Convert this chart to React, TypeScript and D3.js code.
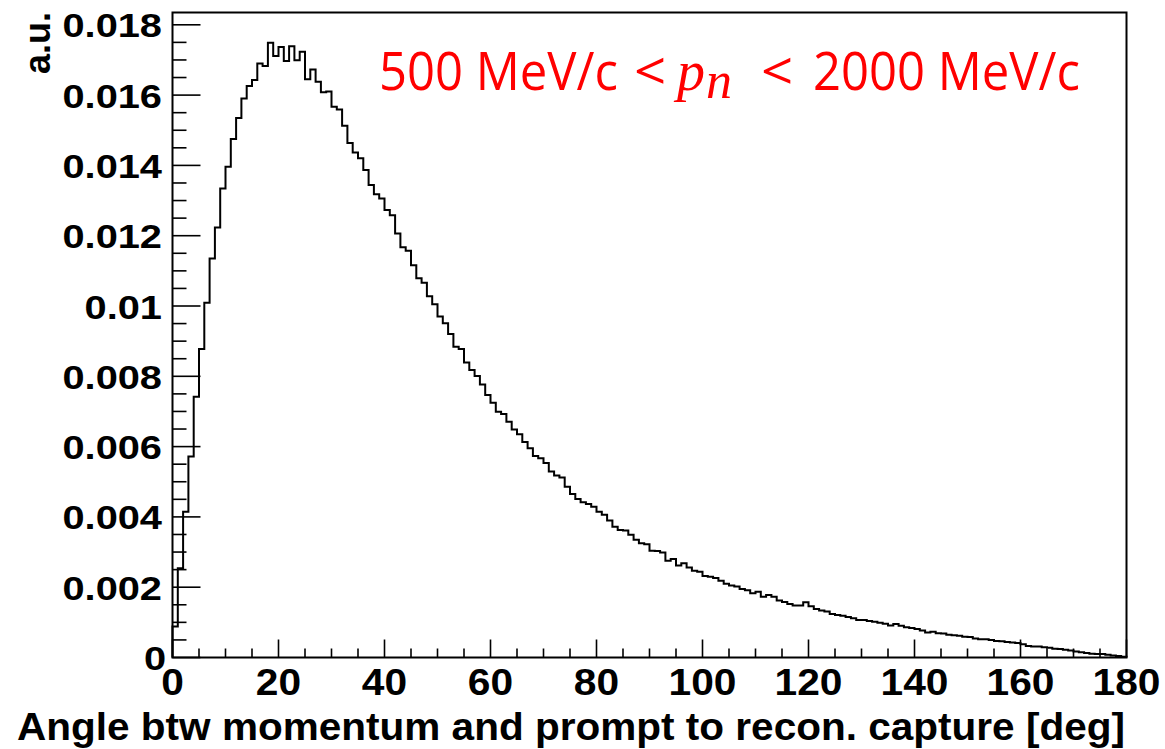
import React from "react";
import * as d3 from "d3";

const binEdgesLow = 0;
const binEdgesHigh = 180;
// bin contents (a.u.), 1-degree bins from 0 to 180
const binValues: number[] = [
  0.88, 2.54, 4.15, 5.72, 7.42, 8.78, 10.09, 11.35, 12.23, 13.34,
  13.96, 14.75, 15.35, 15.9, 16.26, 16.43, 16.9, 16.83, 17.49, 17.11,
  17.37, 16.97, 17.39, 16.99, 17.23, 16.45, 16.73, 16.38, 16.08, 16.1,
  15.67, 15.59, 15.13, 14.64, 14.37, 14.2, 13.87, 13.44, 13.18, 13.06,
  12.73, 12.58, 12.06, 11.67, 11.57, 11.16, 10.79, 10.66, 10.28, 10.05,
  9.7, 9.51, 9.2, 8.84, 8.78, 8.39, 8.18, 8.01, 7.77, 7.47,
  7.25, 6.99, 6.93, 6.71, 6.49, 6.35, 6.13, 5.95, 5.73, 5.67,
  5.53, 5.29, 5.18, 5.12, 4.86, 4.65, 4.51, 4.42, 4.37, 4.29,
  4.15, 4.06, 3.9, 3.72, 3.63, 3.61, 3.49, 3.35, 3.25, 3.22,
  3.04, 3.03, 2.99, 2.75, 2.8, 2.62, 2.68, 2.56, 2.47, 2.44,
  2.32, 2.3, 2.26, 2.18, 2.1, 2.05, 2.02, 1.95, 1.91, 1.83,
  1.87, 1.73, 1.78, 1.73, 1.62, 1.58, 1.52, 1.48, 1.48, 1.57,
  1.46, 1.38, 1.34, 1.31, 1.24, 1.21, 1.19, 1.15, 1.12, 1.07,
  1.07, 1.04, 1.02, 0.99, 0.96, 0.91, 0.95, 0.9, 0.86, 0.84,
  0.81, 0.77, 0.71, 0.73, 0.69, 0.68, 0.65, 0.63, 0.62, 0.59,
  0.58, 0.54, 0.52, 0.52, 0.5, 0.47, 0.46, 0.44, 0.43, 0.41,
  0.38, 0.33, 0.31, 0.31, 0.29, 0.28, 0.25, 0.24, 0.22, 0.2,
  0.17, 0.15, 0.13, 0.11, 0.1, 0.1, 0.08, 0.06, 0.04, 0.02,
].map((v) => v * 1e-3);

const yMax = 0.01835;
const yMajorTicks = [0, 0.002, 0.004, 0.006, 0.008, 0.01, 0.012, 0.014, 0.016, 0.018];
const yTickLabels = ["0", "0.002", "0.004", "0.006", "0.008", "0.01", "0.012", "0.014", "0.016", "0.018"];
const xMajorTicks = [0, 20, 40, 60, 80, 100, 120, 140, 160, 180];
const xTickLabels = ["0", "20", "40", "60", "80", "100", "120", "140", "160", "180"];
const xTitle = "Angle btw momentum and prompt to recon. capture [deg]";
const yTitle = "a.u.";

const W = 1165;
const H = 749;
const L = 172.5, R = 1126.5, T = 12.5, B = 657.5;

export default function App() {
  const x = d3.scaleLinear().domain([binEdgesLow, binEdgesHigh]).range([L, R]);
  const y = d3.scaleLinear().domain([0, yMax]).range([B, T]);
  const nb = binValues.length;
  const bw = (binEdgesHigh - binEdgesLow) / nb;

  // step path
  const pts: [number, number][] = [[binEdgesLow, 0]];
  binValues.forEach((v, i) => {
    pts.push([binEdgesLow + i * bw, v]);
    pts.push([binEdgesLow + (i + 1) * bw, v]);
  });
  pts.push([binEdgesHigh, 0]);
  const line = d3.line<[number, number]>().x((d) => x(d[0])).y((d) => y(d[1]));

  const yMinor = d3.range(0, 0.01801, 0.0005);
  const xMinor = d3.range(0, 180.01, 5);

  const bold = { fontFamily: "'Liberation Sans', Arial, sans-serif", fontWeight: 700 } as const;

  return (
    <svg width={W} height={H} style={{ position: "absolute", left: 0, top: 0, background: "#fff" }}>
      <rect x={0} y={0} width={W} height={H} fill="#fff" />
      {/* y ticks */}
      {yMinor.map((t, i) => {
        const major = yMajorTicks.some((m) => Math.abs(m - t) < 1e-7);
        return (
          <line key={"ym" + i} x1={L} x2={L + (major ? 28 : 14)} y1={y(t)} y2={y(t)} stroke="#000" strokeWidth={1.6} />
        );
      })}
      {/* x ticks */}
      {xMinor.map((t, i) => {
        const major = xMajorTicks.includes(Math.round(t));
        return (
          <line key={"xm" + i} x1={x(t)} x2={x(t)} y1={B} y2={B - (major ? 18 : 9)} stroke="#000" strokeWidth={1.6} />
        );
      })}
      {/* histogram */}
      <path d={line(pts) || ""} fill="none" stroke="#000" strokeWidth={2} strokeLinejoin="miter" />
      {/* frame */}
      <rect x={L} y={T} width={R - L} height={B - T} fill="none" stroke="#000" strokeWidth={2} />
      {/* y tick labels */}
      {yMajorTicks.map((t, i) => (
        <text key={"yl" + i} transform={`translate(${i === 0 ? 166 : 162},${y(t) + 12.5}) scale(1.17,1)`} textAnchor="end" fontSize={34} {...bold}>
          {yTickLabels[i]}
        </text>
      ))}
      {/* x tick labels */}
      {xMajorTicks.map((t, i) => (
        <text key={"xl" + i} transform={`translate(${x(t)},695) scale(1.1,1)`} textAnchor="middle" fontSize={37} {...bold}>
          {xTickLabels[i]}
        </text>
      ))}
      {/* axis titles */}
      <text x={17} y={740} fontSize={38} {...bold} textLength={1108} lengthAdjust="spacingAndGlyphs">
        {xTitle}
      </text>
      <text transform="translate(50,12) rotate(-90)" textAnchor="end" fontSize={36} {...bold}>
        {yTitle}
      </text>
      {/* annotation */}
      <g fill="#ff0000" fontFamily="'Open Sans', 'Noto Sans', sans-serif" fontSize={49}>
        <text transform="translate(379,90) scale(1,1.08)">500 MeV/c</text>
        <text transform="translate(650,90) scale(1.15,1.08)" textAnchor="middle">&lt;</text>
        <text x={677} y={90} fontFamily="'Liberation Serif', 'DejaVu Serif', serif" fontStyle="italic" fontSize={56}>p</text>
        <text x={706} y={98} fontFamily="'Liberation Serif', 'DejaVu Serif', serif" fontStyle="italic" fontSize={52}>n</text>
        <text transform="translate(777,90) scale(1.15,1.08)" textAnchor="middle">&lt;</text>
        <text transform="translate(813,90) scale(1,1.08)">2000 MeV/c</text>
      </g>
    </svg>
  );
}
